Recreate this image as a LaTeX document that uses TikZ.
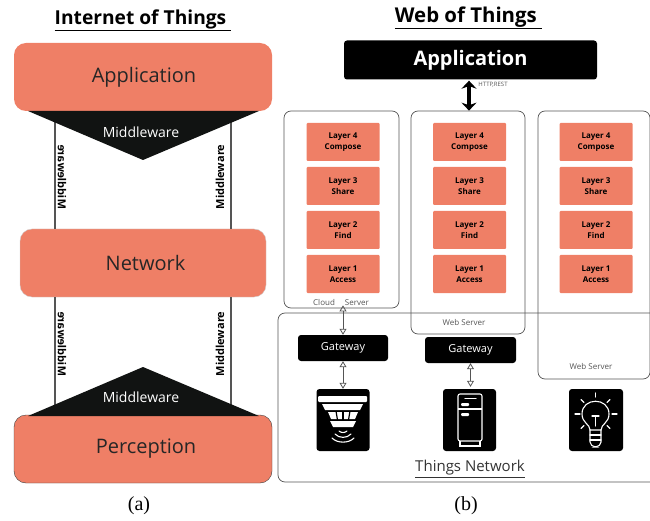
\documentclass[tikz,border=0pt]{standalone}
\usepackage{fontspec}
\setmainfont{Open Sans}
\newfontfamily\capfont{Liberation Serif}
\usepackage{tikz}
\usetikzlibrary{arrows.meta,positioning}

\definecolor{salmon}{HTML}{EF7F66}
\definecolor{nearblack}{HTML}{111312}
\definecolor{edgegray}{HTML}{555555}

\tikzset{
  bigbox/.style={rectangle, rounded corners=12pt, fill=salmon, inner sep=0pt, minimum width=258pt, minimum height=68pt, font=\fontsize{20}{22}\selectfont, text=black!85},
  layerbox/.style={rectangle, rounded corners=1pt, fill=salmon, inner sep=0pt, minimum width=73pt, minimum height=38pt, align=center, font=\fontsize{8}{11.5}\selectfont\bfseries, text=black},
  serverbox/.style={rectangle, rounded corners=7pt, draw=edgegray, line width=.7pt, inner sep=0pt},
  gatewaybox/.style={rectangle, rounded corners=3pt, fill=black, inner sep=0pt, minimum width=90pt, minimum height=26pt, text=white, font=\fontsize{11}{13}\selectfont},
  iconbox/.style={rectangle, rounded corners=3pt, fill=black, inner sep=0pt, minimum width=53pt, minimum height=62pt},
  sidelabel/.style={font=\fontsize{11}{13}\selectfont\bfseries, inner sep=0pt},
  smalllabel/.style={font=\fontsize{8}{10}\selectfont, text=edgegray, inner sep=0pt},
  linkarrow/.style={draw=edgegray, line width=.8pt, {Triangle[open,length=6pt,width=7pt]}-{Triangle[open,length=6pt,width=7pt]}},
  iconline/.style={draw=white, line width=1.1pt, line cap=round}
}

\begin{document}
\begin{tikzpicture}[x=1pt, y=-1pt]
\useasboundingbox (0,0) rectangle (650,521);

% left stack
\node[font=\fontsize{19.2}{21}\selectfont\bfseries] (iottitle) at (143,20) {\underline{Internet of Things\ }};

\coordinate (leftrail) at (55,0);
\coordinate (rightrail) at (231,0);

\node[bigbox] (app) at (143,77) {\hspace{2pt}Application};
\node[bigbox, minimum width=246pt, draw=black!20] (net) at (143,263) {\hspace{5pt}Network};
\node[bigbox, draw=black!75] (perc) at (143,449) {\hspace{6pt}Perception};

\draw[edgegray, line width=1.2pt] (leftrail |- app.south) -- (leftrail |- net.north);
\draw[edgegray, line width=1.2pt] (rightrail |- app.south) -- (rightrail |- net.north);
\draw[edgegray, line width=1.2pt] (leftrail |- net.south) -- (leftrail |- perc.north);
\draw[edgegray, line width=1.2pt] (rightrail |- net.south) -- (rightrail |- perc.north);

\fill[nearblack] (28,111) -- (259,111) -- (143,160) -- cycle;
\fill[nearblack] (28,416) -- (259,416) -- (143,367) -- cycle;

\node[text=white, font=\fontsize{14}{16}\selectfont, inner sep=0pt] (mwtop) at (141,132) {Middleware};
\node[text=white, font=\fontsize{14}{16}\selectfont, inner sep=0pt] (mwbottom) at (141,397) {Middleware};

\node[sidelabel, rotate=90, yscale=-1] (mwa) at (62,177) {Middleware};
\node[sidelabel, rotate=90] (mwb) at (220,177) {Middleware};
\node[sidelabel, rotate=90, yscale=-1] (mwc) at (62,344) {Middleware};
\node[sidelabel, rotate=90] (mwd) at (220,344) {Middleware};

\node[font=\capfont\fontsize{20}{22}\selectfont, inner sep=0pt] (capa) at (139,506) {(a)};

% right side
\node[font=\fontsize{20.4}{22}\selectfont\bfseries] (wottitle) at (468.5,18) {\underline{Web of Things\ }};

\node[rectangle, rounded corners=3pt, fill=black, text=white, minimum width=253pt, minimum height=39pt, inner sep=0pt, font=\fontsize{20}{22}\selectfont\bfseries] (webapp) at (470.5,60) {\raisebox{-3pt}{Application}};

% servers and things network
\draw[edgegray, line width=.7pt, rounded corners=7pt] (650,313) -- (278,313) -- (278,482) -- (650,482);
\node[serverbox, minimum width=115pt, minimum height=197pt] (cloud) at (341.5,209.5) {};
\node[serverbox, minimum width=114pt, minimum height=223pt] (web) at (468,222.5) {};
\node[serverbox, minimum width=112pt, minimum height=268pt] (webb) at (594,245) {};

\draw[line width=3.5pt, {Stealth[length=8pt,width=15pt]}-{Stealth[length=8pt,width=15pt]}] (webapp.south -| 469,0) ++(0,1) -- (web.north -| 469,0);
\node[font=\fontsize{6}{7}\selectfont, text=edgegray, inner sep=0pt] (http) at (493,85) {HTTP,REST};

\node[layerbox] (a4) at (343,142) {Layer 4\\Compose};
\node[layerbox] (a3) at (343,186) {Layer 3\\Share};
\node[layerbox] (a2) at (343,230) {Layer 2\\Find};
\node[layerbox] (a1) at (343,274) {Layer 1\\Access};

\node[layerbox] (b4) at (469.5,142) {Layer 4\\Compose};
\node[layerbox] (b3) at (469.5,186) {Layer 3\\Share};
\node[layerbox] (b2) at (469.5,230) {Layer 2\\Find};
\node[layerbox] (b1) at (469.5,274) {Layer 1\\Access};

\node[layerbox] (c4) at (596,142) {Layer 4\\Compose};
\node[layerbox] (c3) at (596,186) {Layer 3\\Share};
\node[layerbox] (c2) at (596,230) {Layer 2\\Find};
\node[layerbox] (c1) at (596,274) {Layer 1\\Access};

\node[smalllabel] (cloudlabel) at (341,302) {Cloud\hspace{10pt}Server};
\node[smalllabel] (weblabel) at (464,322.5) {Web Server};
\node[smalllabel] (webblabel) at (591,366) {Web Server};

\node[gatewaybox] (gwa) at (343,348) {\raisebox{-1pt}{Gateway}};
\node[gatewaybox, minimum width=91pt] (gwb) at (470.5,350) {Gateway};

\node[iconbox] (sensor) at (343,420) {};
\node[iconbox] (fridge) at (469.5,420) {};
\node[iconbox, minimum width=54pt] (bulb) at (596,420) {};

\draw[linkarrow, shorten >=-3pt] (gwa.north) -- (gwa.north |- cloud.south);
\draw[linkarrow] (gwa.south) -- (sensor.north);
\draw[linkarrow, shorten >=2pt] (gwb.south) -- (gwb.south |- fridge.north);

% smoke sensor
\fill[white, rounded corners=1pt] (318,396) rectangle (367,402);
\fill[white] (322,404) -- (363,404) -- (360,410) -- (325,410) -- cycle;
\fill[white] (328,412) -- (358,412) -- (355,419) -- (331,419) -- cycle;
\draw[black, line width=1.2pt] (336,411) -- (337.5,420);
\draw[black, line width=1.2pt] (343,411) -- (343,420);
\draw[black, line width=1.2pt] (350,411) -- (348.5,420);
\fill[white] (330,421) -- (356,421) -- (353,427) -- (333,427) -- cycle;
\draw[iconline] (339,431) .. controls (341,433) and (345,433) .. (347,431);
\draw[iconline] (335,434) .. controls (339,438.5) and (347,438.5) .. (351,434);
\draw[iconline] (332,438) .. controls (337,443.5) and (349,443.5) .. (354,438);

% fridge
\draw[iconline, rounded corners=2pt] (458,394) rectangle (482,441);
\draw[iconline, line cap=butt] (458,409) -- (482,409);
\draw[iconline, line cap=butt] (460,441) -- (460,446) -- (480,446) -- (480,441);
\draw[iconline] (465,398.5) -- (476,398.5);
\fill[white, rounded corners=1pt] (461,403) rectangle (469,406);
\fill[white, rounded corners=1pt] (461,413) rectangle (469,416);

% bulb
\draw[iconline] (590,430) .. controls (590,424) and (582,423) .. (582,414) .. controls (582,397) and (609,397) .. (609,414) .. controls (609,423) and (601,424) .. (601,430) -- cycle;
\draw[iconline, rounded corners=2pt] (590,430) -- (590,444) -- (594,447) -- (597,447) -- (601,444) -- (601,430);
\draw[iconline] (590,435) -- (601,435);
\draw[iconline] (590,440) -- (601,440);
\draw[iconline] (592,416) -- (599,416);
\draw[iconline] (595.5,416) -- (595.5,426);
\draw[iconline] (595.5,393) -- (595.5,397);
\draw[iconline] (575,414) -- (580,414);
\draw[iconline] (612,414) -- (617,414);
\draw[iconline] (581,399.5) -- (584,402.5);
\draw[iconline] (610,399.5) -- (607,402.5);
\draw[iconline] (581,428.5) -- (584,425.5);
\draw[iconline] (610,428.5) -- (607,425.5);

\node[font=\fontsize{15}{17}\selectfont, text=black!80, inner sep=0pt] (thingslabel) at (470,469) {\underline{Things Network}};

\node[font=\capfont\fontsize{20}{22}\selectfont, inner sep=0pt] (capb) at (466,506) {(b)};

\end{tikzpicture}
\end{document}
